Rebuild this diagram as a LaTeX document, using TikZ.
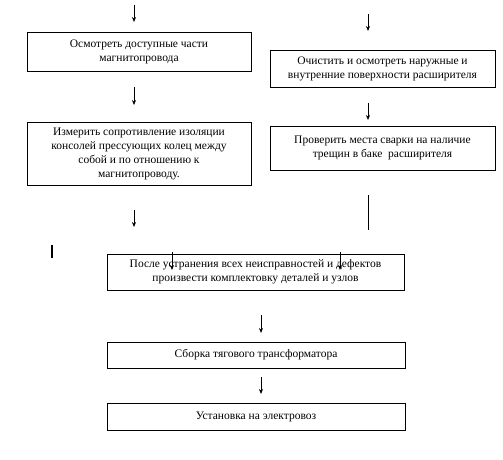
\documentclass[tikz,border=0pt]{standalone}
\usepackage{fontspec}
\setmainfont{Liberation Serif}
\usetikzlibrary{arrows.meta}
\begin{document}
\begin{tikzpicture}[x=1pt,y=-1pt,
  box/.style={draw, line width=0.8pt, align=center, inner sep=0pt,
    font=\fontsize{11.5}{14}\selectfont},
  arr/.style={-{Stealth[length=5pt,width=4pt]}, line width=0.7pt},
  plain/.style={line width=0.7pt}]
\useasboundingbox (0,0) rectangle (503,460);
\node[box, minimum width=224pt, minimum height=39pt] (b1) at (139,51.5)
  {Осмотреть доступные части\\магнитопровода};
\node[box, minimum width=224pt, minimum height=63pt] (b2) at (139,153.5)
  {Измерить сопротивление изоляции\\консолей прессующих колец между\\собой и по отношению к\\магнитопроводу.};
\node[box, minimum width=225pt, minimum height=37pt] (r1) at (382.5,68.5)
  {Очистить и осмотреть наружные и\\внутренние поверхности расширителя};
\node[box, minimum width=225pt, minimum height=44pt] (r2) at (382.5,148)
  {Проверить места сварки на наличие\\трещин в баке\ \ расширителя};
\node[box, minimum width=297pt, minimum height=36pt] (c1) at (255.5,272)
  {После устранения всех неисправностей и дефектов\\произвести комплектовку деталей и узлов};
\node[box, minimum width=298pt, minimum height=26pt] (c2) at (256,355)
  {Сборка тягового трансформатора};
\node[box, minimum width=298pt, minimum height=27pt] (c3) at (256,416.5)
  {Установка на электровоз};
% free arrow ends
\coordinate (a1s) at (134,5);   \coordinate (a1e) at (134,22);
\coordinate (a2s) at (134,87);  \coordinate (a2e) at (134,105);
\coordinate (a3s) at (134,210); \coordinate (a3e) at (134,227);
\coordinate (r0s) at (368,14);  \coordinate (r0e) at (368,31);
\coordinate (r1s) at (368,103); \coordinate (r1e) at (368,120);
\coordinate (r2s) at (368,195); \coordinate (r2e) at (368,230);
\coordinate (i1s) at (172,252); \coordinate (i1e) at (172,270);
\coordinate (i2s) at (340,252); \coordinate (i2e) at (340,270);
\coordinate (c1s) at (261,315); \coordinate (c1e) at (261,333);
\coordinate (c2s) at (261,377); \coordinate (c2e) at (261,394);
\coordinate (bars) at (52,245); \coordinate (bare) at (52,258);
\draw[arr] (a1s) -- (a1e);
\draw[arr] (a2s) -- (a2e);
\draw[arr] (a3s) -- (a3e);
\draw[arr] (r0s) -- (r0e);
\draw[arr] (r1s) -- (r1e);
\draw[plain] (r2s) -- (r2e);
\draw[arr] (i1s) -- (i1e);
\draw[arr] (i2s) -- (i2e);
\draw[arr] (c1s) -- (c1e);
\draw[arr] (c2s) -- (c2e);
\draw[line width=1.8pt] (bars) -- (bare);
\end{tikzpicture}
\end{document}
